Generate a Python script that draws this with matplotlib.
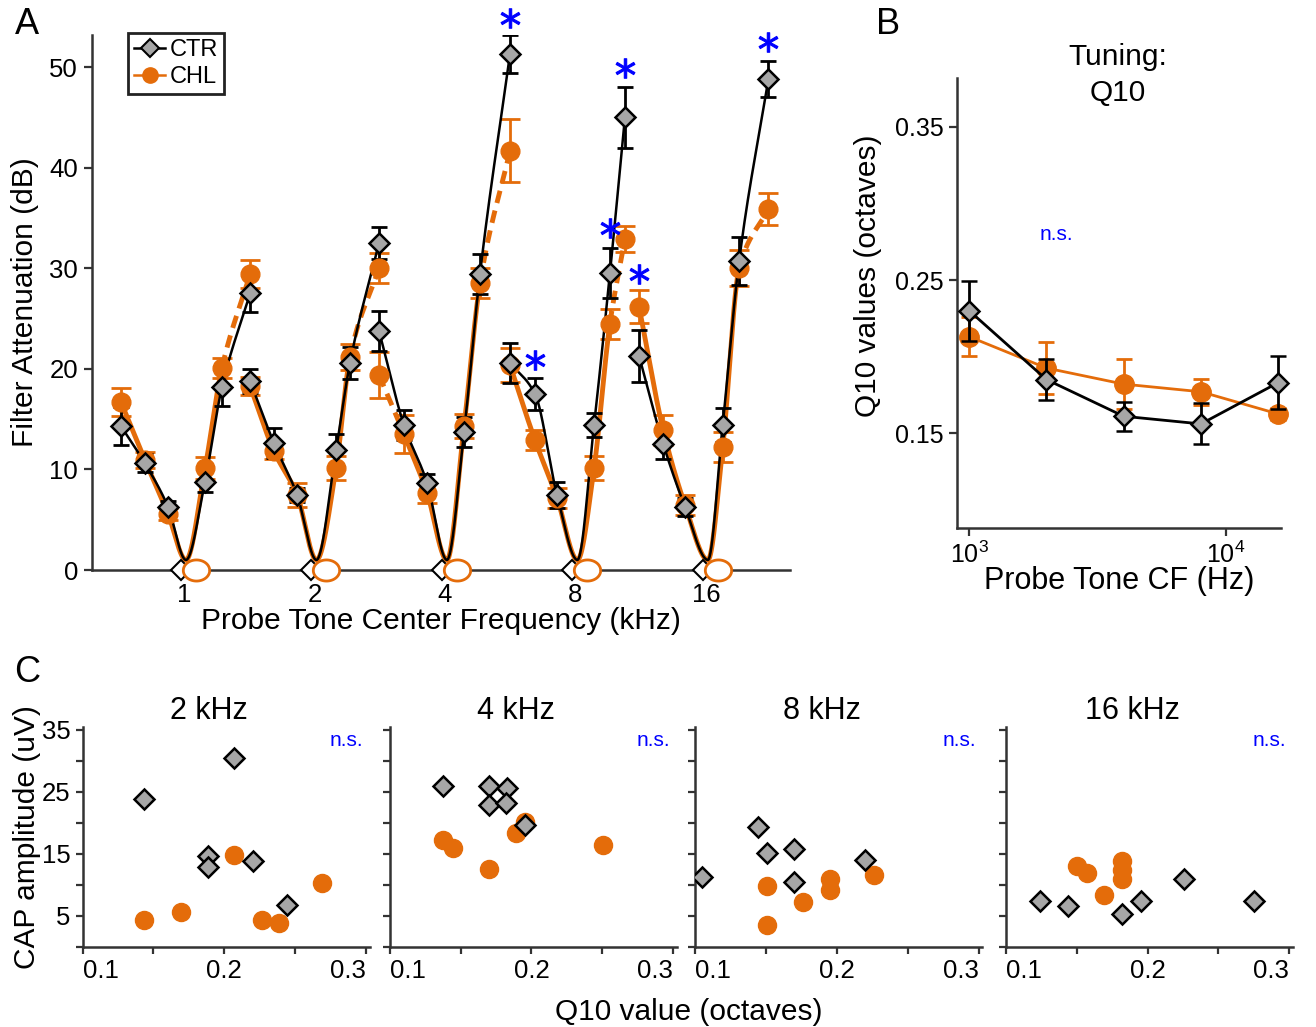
import numpy as np
import matplotlib
matplotlib.use('Agg')
import matplotlib.pyplot as plt
from matplotlib.lines import Line2D
from matplotlib.ticker import FixedLocator, NullLocator, FixedFormatter

plt.rcParams['font.family'] = ['Liberation Sans', 'DejaVu Sans']
plt.rcParams['axes.edgecolor'] = '#333333'
plt.rcParams['axes.linewidth'] = 1.8
plt.rcParams['xtick.color'] = '#333333'
plt.rcParams['ytick.color'] = '#333333'
plt.rcParams['xtick.labelcolor'] = 'black'
plt.rcParams['ytick.labelcolor'] = 'black'

ORANGE = '#e46c0a'
GRAY = '#a6a6a6'
BLUE = '#0000ff'

# ---------------- panel A: filter attenuation vs notch position
probe_khz = [1, 2, 4, 8, 16]
# notch positions, octaves re probe frequency
notch_oct = [
    [-0.483, -0.299, -0.123, 0.161, 0.291, 0.506],
    [-0.494, -0.310, -0.134, 0.165, 0.272, 0.494],
    [-0.506, -0.314, -0.138, 0.146, 0.268, 0.498],
    [-0.502, -0.310, -0.142, 0.142, 0.264, 0.379],
    [-0.513, -0.327, -0.161, 0.128, 0.254, 0.478],
]
ctr_att = [
    [14.3, 10.6, 6.3, 8.8, 18.2, 27.5],
    [18.8, 12.6, 7.5, 11.9, 20.6, 32.5],
    [23.8, 14.4, 8.7, 13.7, 29.4, 51.3],
    [20.6, 17.5, 7.5, 14.4, 29.5, 45.0],
    [21.3, 12.5, 6.3, 14.4, 30.7, 48.8],
]
ctr_err = [
    [1.9, 0.9, 0.6, 1.0, 1.9, 1.8],
    [1.2, 1.5, 0.7, 1.6, 1.6, 1.6],
    [2.0, 1.5, 0.8, 1.5, 2.0, 1.9],
    [2.0, 1.6, 1.3, 1.2, 2.5, 3.0],
    [2.6, 1.5, 0.9, 1.7, 2.4, 1.8],
]
chl_att = [
    [16.7, 10.9, 5.6, 10.1, 20.1, 29.4],
    [18.3, 11.8, 7.5, 10.1, 21.2, 30.0],
    [19.4, 13.5, 7.7, 14.3, 28.5, 41.7],
    [20.4, 12.9, 7.2, 10.1, 24.5, 32.9],
    [26.2, 13.9, 6.5, 12.2, 30.0, 35.9],
]
chl_err = [
    [1.4, 0.8, 0.6, 1.1, 1.0, 1.4],
    [0.9, 0.8, 1.2, 1.2, 1.3, 1.5],
    [2.3, 1.9, 1.0, 1.2, 1.5, 3.1],
    [1.7, 1.0, 1.0, 1.2, 1.5, 1.3],
    [1.6, 1.5, 1.0, 1.5, 1.8, 1.6],
]
# CHL fit segments drawn dashed (between data point indices)
chl_dashed = [[(4, 5)], [(4, 5)], [(0, 1), (4, 5)], [(4, 5)], [(4, 5)]]
notch_min = (0.015, 1.0)   # fitted minimum (octaves re probe, dB)
# significance stars: (probe index, point index, dB)
stars_a = [(2, 5, 54.9), (3, 5, 49.9), (3, 4, 34.0), (4, 0, 29.4),
           (3, 1, 20.9), (4, 5, 52.5)]

# ---------------- panel B: Q10 vs probe CF
cf_hz = [1000, 2000, 4000, 8000, 16000]
q10_ctr = [0.230, 0.185, 0.161, 0.156, 0.183]
q10_ctr_err = [0.0196, 0.0135, 0.0094, 0.0134, 0.0173]
q10_chl = [0.213, 0.1925, 0.182, 0.177, 0.1625]
q10_chl_err = [0.0129, 0.017, 0.0162, 0.0085, 0.004]

# ---------------- panel C: CAP amplitude vs Q10
c_titles = ['2 kHz', '4 kHz', '8 kHz', '16 kHz']
c_ctr_q10 = [
    [0.1435, 0.207, 0.1887, 0.1887, 0.220, 0.244],
    [0.1377, 0.1703, 0.1829, 0.1703, 0.1823, 0.1958],
    [0.1049, 0.1442, 0.1508, 0.1699, 0.1699, 0.2198],
    [0.1239, 0.1439, 0.1823, 0.1952, 0.2259, 0.2749],
]
c_ctr_cap = [
    [23.9, 30.5, 14.6, 12.85, 13.75, 6.7],
    [25.9, 25.9, 25.6, 22.8, 23.2, 19.7],
    [11.3, 19.35, 15.2, 15.7, 10.4, 14.0],
    [7.4, 6.6, 5.2, 7.4, 11.0, 7.4],
]
c_chl_q10 = [
    [0.1435, 0.1694, 0.207, 0.269, 0.2266, 0.2384],
    [0.1377, 0.1446, 0.1703, 0.189, 0.1954, 0.2507],
    [0.1508, 0.1508, 0.1762, 0.1953, 0.1953, 0.2261],
    [0.1504, 0.157, 0.1695, 0.1823, 0.1823, 0.1823],
]
c_chl_cap = [
    [4.3, 5.6, 14.8, 10.3, 4.3, 3.8],
    [17.2, 16.0, 12.5, 18.4, 20.1, 16.4],
    [9.8, 3.5, 7.15, 11.0, 9.1, 11.5],
    [13.0, 11.9, 8.3, 13.9, 12.4, 11.0],
]


def pchip(xk, yk, xn):
    xk = np.asarray(xk, float)
    yk = np.asarray(yk, float)
    h = np.diff(xk)
    d = np.diff(yk) / h
    m = np.zeros_like(yk)
    for k in range(1, len(xk) - 1):
        if d[k - 1] * d[k] > 0:
            w1 = 2 * h[k] + h[k - 1]
            w2 = h[k] + 2 * h[k - 1]
            m[k] = (w1 + w2) / (w1 / d[k - 1] + w2 / d[k])
    m[0] = d[0]
    m[-1] = d[-1]
    i = np.clip(np.searchsorted(xk, xn) - 1, 0, len(h) - 1)
    t = (xn - xk[i]) / h[i]
    h00 = 2 * t**3 - 3 * t**2 + 1
    h10 = t**3 - 2 * t**2 + t
    h01 = -2 * t**3 + 3 * t**2
    h11 = t**3 - t**2
    return h00 * yk[i] + h10 * h[i] * m[i] + h01 * yk[i + 1] + h11 * h[i] * m[i + 1]


fig = plt.figure(figsize=(13.16, 10.27), dpi=100)

# ================= A
axA = fig.add_axes([92 / 1316, 457 / 1027, 698 / 1316, 535 / 1027])
ell = np.linspace(0, 2 * np.pi, 60)
ellipse = np.c_[1.25 * np.cos(ell), np.sin(ell)]

for g, f in enumerate(probe_khz):
    c = np.log2(f)
    xo = np.array(notch_oct[g]) + c
    xs = np.linspace(xo[0], xo[-1], 500)
    for vals, col, lw, z in [(chl_att[g], ORANGE, 3.5, 2), (ctr_att[g], 'black', 1.8, 4)]:
        kx = np.r_[xo[:3], c + notch_min[0], xo[3:]]
        ky = np.r_[vals[:3], notch_min[1], vals[3:]]
        ys = pchip(kx, ky, xs)
        if col == ORANGE:
            dm = np.zeros(xs.shape, bool)
            for a, b in chl_dashed[g]:
                dm |= (xs >= xo[a]) & (xs <= xo[b])
            axA.plot(xs, np.where(dm, np.nan, ys), color=col, lw=lw, zorder=z,
                     solid_capstyle='butt')
            axA.plot(xs, np.where(dm, ys, np.nan), color=col, lw=lw, zorder=z,
                     ls=(0, (2.6, 1.6)))
        else:
            axA.plot(xs, ys, color=col, lw=lw, zorder=z)
    axA.errorbar(xo, chl_att[g], yerr=chl_err[g], fmt='none', ecolor=ORANGE,
                 elinewidth=2, capsize=7, capthick=2, zorder=3)
    axA.errorbar(xo, ctr_att[g], yerr=ctr_err[g], fmt='none', ecolor='black',
                 elinewidth=2, capsize=6, capthick=2, zorder=5)
    axA.plot(xo, chl_att[g], ls='none', marker='o', ms=13.5, mfc=ORANGE,
             mec=ORANGE, zorder=6)
    axA.plot(xo, ctr_att[g], ls='none', marker='D', ms=10.5, mfc=GRAY,
             mec='black', mew=1.8, zorder=7)
    axA.plot(c - 0.023, 0, marker='D', ms=10, mfc='white', mec='black',
             mew=1.5, clip_on=False, zorder=8)
    axA.plot(c + 0.092, 0, marker=ellipse, ms=19, mfc='white', mec=ORANGE,
             mew=2, clip_on=False, zorder=8)

for g, i, y in stars_a:
    axA.plot(np.log2(probe_khz[g]) + notch_oct[g][i], y, ls='none',
             marker='$*$', ms=14, color=BLUE, mew=0.8, zorder=9, clip_on=False)

axA.set_xlim(-0.705, 4.644)
axA.set_ylim(0, 53.2)
axA.set_xticks(np.log2(probe_khz))
axA.set_xticklabels([str(f) for f in probe_khz])
axA.set_yticks([0, 10, 20, 30, 40, 50])
axA.tick_params(axis='x', length=0, labelsize=18.5, pad=9)
axA.tick_params(axis='y', length=6, width=1.6, labelsize=18.5, pad=4)
for s in ['top', 'right']:
    axA.spines[s].set_visible(False)
axA.set_xlabel('Probe Tone Center Frequency (kHz)', fontsize=21.5)
axA.xaxis.set_label_coords(0.5, -0.07)
axA.set_ylabel('Filter Attenuation (dB)', fontsize=21.5)
axA.yaxis.set_label_coords(-0.076, 0.5)

hand = [Line2D([], [], color='black', lw=1.8, marker='D', ms=9, mfc=GRAY,
               mec='black', mew=1.5),
        Line2D([], [], color=ORANGE, lw=1.8, marker='o', ms=11, mfc=ORANGE,
               mec=ORANGE)]
leg = axA.legend(hand, ['CTR', 'CHL'], loc='upper left',
                 bbox_to_anchor=(0.052, 1.003), borderaxespad=0, fontsize=17,
                 handlelength=1.3, handletextpad=0.2, borderpad=0.25,
                 labelspacing=0.2, fancybox=False, framealpha=1)
leg.get_frame().set_edgecolor('#222222')
leg.get_frame().set_linewidth(2)

# ================= B
axB = fig.add_axes([957 / 1316, 499 / 1027, 324 / 1316, 450 / 1027])
axB.errorbar(cf_hz, q10_ctr, yerr=q10_ctr_err, color='black', lw=2,
             elinewidth=2, capsize=6, capthick=2, marker='D', ms=10,
             mfc=GRAY, mec='black', mew=1.8, zorder=4, clip_on=False)
axB.errorbar(cf_hz, q10_chl, yerr=q10_chl_err, color=ORANGE, lw=2,
             elinewidth=2, capsize=6, capthick=2, marker='o', ms=14,
             mfc=ORANGE, mec=ORANGE, zorder=3, clip_on=False)
axB.set_xscale('log')
axB.set_xlim(897, 16400)
axB.set_ylim(0.088, 0.382)
axB.xaxis.set_major_locator(FixedLocator([1e3, 1e4]))
axB.xaxis.set_minor_locator(NullLocator())
axB.set_yticks([0.15, 0.25, 0.35])
axB.set_yticklabels(['0.15', '0.25', '0.35'])
axB.tick_params(axis='both', length=6, width=1.6, labelsize=18)
for s in ['top', 'right']:
    axB.spines[s].set_visible(False)
axB.set_xlabel('Probe Tone CF (Hz)', fontsize=22)
axB.xaxis.set_label_coords(0.5, -0.085)
axB.set_ylabel('Q10 values (octaves)', fontsize=21.5)
axB.yaxis.set_label_coords(-0.232, 0.56)
axB.text(2190, 0.28, 'n.s.', color=BLUE, fontsize=15, ha='center', va='center')
fig.text(1118 / 1316, 1 - 57 / 1027, 'Tuning:', fontsize=21.5, ha='center', va='center')
fig.text(1118 / 1316, 1 - 93 / 1027, 'Q10', fontsize=21.5, ha='center', va='center')

# ================= C
c_left = [82.6, 389.7, 695.4, 1005.8]
for k, title in enumerate(c_titles):
    ax = fig.add_axes([c_left[k] / 1316, 80.3 / 1027, 287 / 1316, 220 / 1027])
    ax.plot(c_chl_q10[k], c_chl_cap[k], ls='none', marker='o', ms=13,
            mfc=ORANGE, mec=ORANGE, zorder=3)
    ax.plot(c_ctr_q10[k], c_ctr_cap[k], ls='none', marker='D', ms=10,
            mfc=GRAY, mec='black', mew=1.8, zorder=4)
    ax.set_xlim(0.1, 0.3025)
    ax.set_ylim(0, 35.5)
    ax.xaxis.set_major_locator(FixedLocator([0.1, 0.2, 0.3]))
    ax.xaxis.set_minor_locator(FixedLocator([0.15, 0.25]))
    ax.xaxis.set_major_formatter(FixedFormatter(['0.1', '0.2', '0.3']))
    ax.yaxis.set_major_locator(FixedLocator([5, 15, 25, 35]))
    ax.yaxis.set_minor_locator(FixedLocator([0, 10, 20, 30]))
    ax.tick_params(which='both', length=5, width=1.6, labelsize=18.5)
    if k == 0:
        ax.set_ylabel('CAP amplitude (uV)', fontsize=21.5)
        ax.yaxis.set_label_coords(-0.145, 0.5)
    else:
        ax.set_yticklabels([])
    for s in ['top', 'right']:
        ax.spines[s].set_visible(False)
    labs = ax.get_xticklabels()
    labs[0].set_horizontalalignment('left')
    labs[-1].set_horizontalalignment('right')
    ax.text(0.44, 1.07, title, transform=ax.transAxes, fontsize=22,
            ha='center', va='center')
    ax.text(0.92, 0.935, 'n.s.', transform=ax.transAxes, color=BLUE,
            fontsize=15, ha='center', va='center')

fig.text(689 / 1316, 1 - 1012 / 1027, 'Q10 value (octaves)', fontsize=21.5,
         ha='center', va='center')

for lab, x, y in [('A', 27, 25), ('B', 888, 25), ('C', 27, 673)]:
    fig.text(x / 1316, 1 - y / 1027, lab, fontsize=26, ha='center', va='center')

fig.savefig('out.png', dpi=100)
